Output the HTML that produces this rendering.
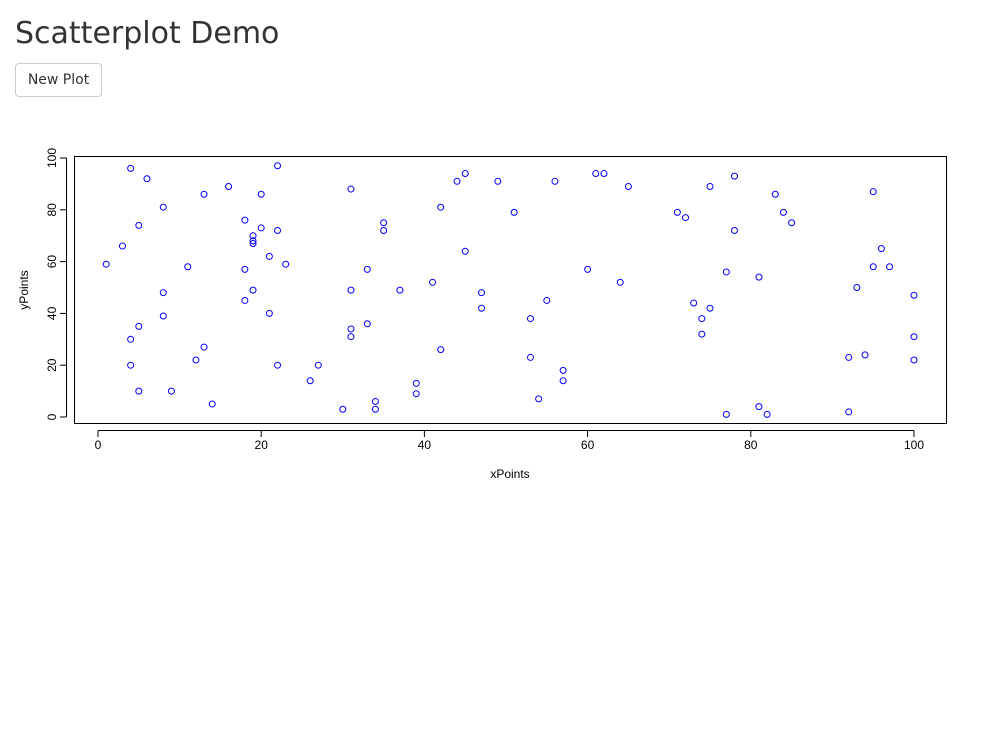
<!DOCTYPE html>
<html><head><meta charset="utf-8"><style>
body{margin:0;background:#fff;font-family:"Liberation Sans","DejaVu Sans",sans-serif;width:992px;height:744px;overflow:hidden;position:relative}
h1{position:absolute;left:15px;top:16px;margin:0;font-weight:normal;font-size:30px;color:#333;font-family:"DejaVu Sans","Liberation Sans",sans-serif}
button{position:absolute;left:15px;top:63px;width:87px;height:34px;background:#fff;border:1px solid #ccc;border-radius:4px;font-size:14px;color:#333;font-family:"DejaVu Sans","Liberation Sans",sans-serif}
svg{position:absolute;left:0;top:0}
text{font-family:"Liberation Sans",sans-serif;font-size:12px;fill:#000}
</style></head><body>
<h1>Scatterplot Demo</h1>
<button>New Plot</button>
<svg id="chart" width="992" height="744"></svg>
<script>
const xPoints=[4,6,8,5,3,1,8,8,5,4,4,5,9,14,12,13,11,13,16,18,20,22,20,22,19,19,19,21,23,18,19,18,21,22,26,27,30,31,31,31,31,33,33,34,34,35,35,37,39,39,41,42,42,44,45,45,47,47,49,51,53,53,54,55,56,57,57,60,61,62,64,65,71,72,73,74,74,75,75,78,78,77,77,81,81,82,83,84,85,92,92,93,94,95,95,96,97,100,100,100];
const yPoints=[96,92,81,74,66,59,48,39,35,30,20,10,10,5,22,27,58,86,89,76,86,97,73,72,70,68,67,62,59,57,49,45,40,20,14,20,3,88,49,34,31,57,36,6,3,75,72,49,13,9,52,81,26,91,94,64,48,42,91,79,38,23,7,45,91,18,14,57,94,94,52,89,79,77,44,38,32,42,89,93,72,56,1,54,4,1,86,79,75,23,2,50,24,87,58,65,58,47,31,22];
const xTicks=[0,20,40,60,80,100];
const yTicks=[0,20,40,60,80,100];
const NS="http://www.w3.org/2000/svg";
const svg=document.getElementById('chart');
const X=v=>98+v*8.16, Y=v=>417-v*2.59;
function mk(t,a){const e=document.createElementNS(NS,t);for(const k in a)e.setAttribute(k,a[k]);svg.appendChild(e);return e;}
const box=mk('rect',{x:74.5,y:156.5,width:872,height:267,fill:'none',stroke:'#000','stroke-width':1});


const xa=mk('line',{x1:X(0),x2:X(100),y1:430.5,y2:430.5,stroke:'#000'});


xTicks.forEach(t=>{
  mk('line',{x1:X(t),x2:X(t),y1:430.5,y2:437,stroke:'#000'});
  const tx=mk('text',{x:X(t),y:449,'text-anchor':'middle'});tx.textContent=t;
  
  
});
const ya=mk('line',{x1:66.5,x2:66.5,y1:Y(0),y2:Y(100),stroke:'#000'});


yTicks.forEach(t=>{
  mk('line',{x1:60,x2:66.5,y1:Y(t),y2:Y(t),stroke:'#000'});
  const tx=mk('text',{x:56,y:Y(t),'text-anchor':'middle',transform:`rotate(-90 56 ${Y(t)})`});tx.textContent=t;
  
  
});
const xt=mk('text',{x:510,y:478,'text-anchor':'middle'});xt.textContent='xPoints';


const yt=mk('text',{x:28,y:290,'text-anchor':'middle',transform:'rotate(-90 28 290)'});yt.textContent='yPoints';


xPoints.forEach((xv,i)=>{
  const c=mk('circle',{cx:X(xv),cy:Y(yPoints[i]),r:3,fill:'none',stroke:'#0000ff','stroke-width':1});
  
  
});
</script>
</body></html>
